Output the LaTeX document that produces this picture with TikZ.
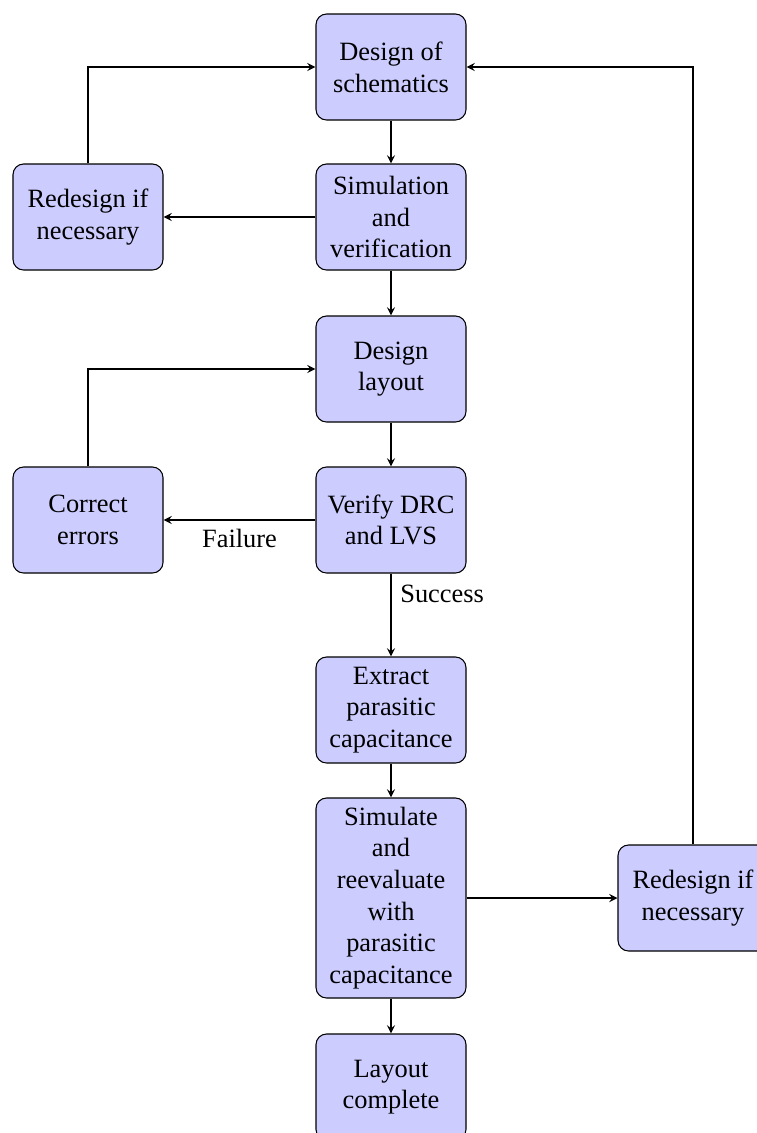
\documentclass[tikz,border=0pt]{standalone}
\usepackage{fontspec}
\setmainfont{Liberation Serif}
\begin{document}
\begin{tikzpicture}[x=0.3788pt,y=-0.3788pt,
  box/.style={draw, rounded corners, fill=blue!20, align=center,
    minimum width=56.82pt, minimum height=40.15pt, font=\fontsize{10}{12}\selectfont},
  arr/.style={draw, -stealth},
  lbl/.style={font=\fontsize{10}{12}\selectfont}]
\useasboundingbox (0,0) rectangle (757,1133);
\node[box] (design) at (391,67) {Design of\\schematics};
\node[box] (sim) at (391,217) {Simulation\\and\\verification};
\node[box] (red1) at (88,217) {Redesign if\\necessary};
\node[box] (layout) at (391,369) {Design\\layout};
\node[box] (verify) at (391,520) {Verify DRC\\and LVS};
\node[box] (correct) at (88,520) {Correct\\errors};
\node[box] (extract) at (391,710) {Extract\\parasitic\\capacitance};
\node[box, minimum height=75.76pt] (simre) at (391,898) {Simulate\\and\\reevaluate\\with\\parasitic\\capacitance};
\node[box] (red2) at (693,898) {Redesign if\\necessary};
\node[box] (done) at (391,1087) {Layout\\complete};
\draw[arr] (design) -- (sim);
\draw[arr] (sim) -- (red1);
\draw[arr] (red1) |- (design);
\draw[arr] (sim) -- (layout);
\draw[arr] (layout) -- (verify);
\draw[arr] (verify) -- node[lbl, below]{Failure} (correct);
\draw[arr] (correct) |- (layout);
\draw[arr] (verify) -- node[lbl, right, near start]{Success} (extract);
\draw[arr] (extract) -- (simre);
\draw[arr] (simre) -- (red2);
\draw[arr] (red2) |- (design);
\draw[arr] (simre) -- (done);
\end{tikzpicture}
\end{document}
